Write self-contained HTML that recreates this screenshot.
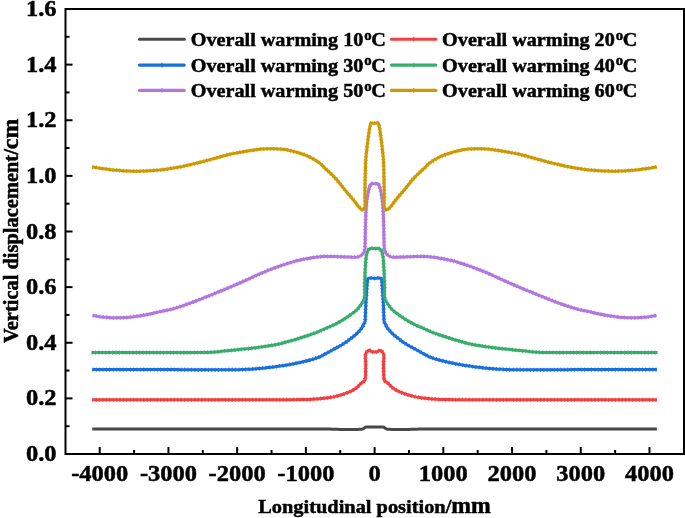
<!DOCTYPE html>
<html><head><meta charset="utf-8"><style>html,body{margin:0;padding:0;background:#fff;overflow:hidden}svg{display:block;will-change:transform}</style></head>
<body><svg width="685" height="518" viewBox="0 0 685 518">
<rect width="685" height="518" fill="#fff"/>
<path d="M92.30,429.10 L144.86,429.06 L202.43,428.98 L257.50,428.93 L302.53,428.94 L330.00,429.10 L332.80,429.16 L334.81,429.22 L336.42,429.29 L338.02,429.35 L340.00,429.40 L343.46,429.45 L347.40,429.48 L351.41,429.50 L355.08,429.48 L358.00,429.40 L359.13,429.35 L360.14,429.30 L361.03,429.24 L361.81,429.14 L362.50,429.00 L362.86,428.89 L363.18,428.76 L363.46,428.62 L363.73,428.47 L364.00,428.30 L364.25,428.11 L364.49,427.89 L364.72,427.66 L364.95,427.46 L365.20,427.30 L365.43,427.20 L365.65,427.13 L365.89,427.08 L366.16,427.04 L366.50,427.00 L367.67,426.93 L369.24,426.92 L371.03,426.95 L372.87,426.98 L374.60,427.00 L376.33,426.98 L378.17,426.95 L379.96,426.92 L381.53,426.93 L382.70,427.00 L383.04,427.04 L383.31,427.08 L383.55,427.13 L383.77,427.20 L384.00,427.30 L384.25,427.46 L384.48,427.66 L384.71,427.89 L384.95,428.11 L385.20,428.30 L385.47,428.47 L385.74,428.62 L386.02,428.76 L386.34,428.89 L386.70,429.00 L387.39,429.14 L388.17,429.24 L389.06,429.30 L390.07,429.35 L391.20,429.40 L394.12,429.48 L397.79,429.50 L401.80,429.48 L405.74,429.45 L409.20,429.40 L411.18,429.35 L412.78,429.29 L414.39,429.22 L416.40,429.16 L419.20,429.10 L446.67,428.94 L491.70,428.93 L546.77,428.98 L604.34,429.06 L656.90,429.10" fill="none" stroke="#484848" stroke-width="3" stroke-linejoin="round" stroke-linecap="butt"/>
<path d="M92.30,399.80 L125.25,399.81 L159.61,399.82 L193.27,399.83 L224.10,399.83 L250.00,399.80 L262.40,399.77 L273.85,399.75 L284.09,399.71 L292.89,399.66 L300.00,399.60 L302.48,399.57 L304.52,399.55 L306.31,399.53 L308.08,399.48 L310.00,399.40 L312.27,399.28 L314.58,399.12 L316.92,398.94 L319.27,398.74 L321.60,398.50 L323.92,398.25 L326.25,397.98 L328.57,397.68 L330.89,397.33 L333.20,396.90 L335.56,396.38 L337.93,395.80 L340.28,395.15 L342.59,394.45 L344.80,393.70 L346.79,392.96 L348.78,392.16 L350.68,391.32 L352.45,390.46 L354.00,389.60 L354.94,389.00 L355.77,388.40 L356.53,387.78 L357.26,387.15 L358.00,386.50 L358.75,385.80 L359.47,385.05 L360.18,384.30 L360.89,383.57 L361.60,382.90 L362.29,382.37 L363.02,381.90 L363.72,381.44 L364.34,380.95 L364.80,380.40 L365.03,379.90 L365.16,379.40 L365.21,378.85 L365.25,378.23 L365.30,377.50 L365.45,375.39 L365.55,372.68 L365.62,369.67 L365.66,366.64 L365.70,363.90 L365.63,361.73 L365.47,359.57 L365.33,357.49 L365.36,355.61 L365.70,354.00 L366.16,352.99 L366.77,352.04 L367.46,351.23 L368.19,350.62 L368.90,350.30 L369.46,350.33 L370.04,350.58 L370.62,350.95 L371.21,351.33 L371.80,351.60 L372.36,351.76 L372.92,351.90 L373.48,352.01 L374.04,352.08 L374.60,352.10 L375.16,352.08 L375.72,352.01 L376.28,351.90 L376.84,351.76 L377.40,351.60 L377.99,351.33 L378.58,350.95 L379.16,350.58 L379.74,350.33 L380.30,350.30 L381.01,350.62 L381.74,351.23 L382.43,352.04 L383.04,352.99 L383.50,354.00 L383.84,355.61 L383.87,357.49 L383.73,359.57 L383.57,361.73 L383.50,363.90 L383.54,366.64 L383.58,369.67 L383.65,372.68 L383.75,375.39 L383.90,377.50 L383.95,378.23 L383.99,378.85 L384.04,379.40 L384.17,379.90 L384.40,380.40 L384.86,380.95 L385.48,381.44 L386.18,381.90 L386.91,382.37 L387.60,382.90 L388.31,383.57 L389.02,384.30 L389.73,385.05 L390.45,385.80 L391.20,386.50 L391.94,387.15 L392.67,387.78 L393.43,388.40 L394.26,389.00 L395.20,389.60 L396.75,390.46 L398.52,391.32 L400.42,392.16 L402.41,392.96 L404.40,393.70 L406.61,394.45 L408.92,395.15 L411.27,395.80 L413.64,396.38 L416.00,396.90 L418.31,397.33 L420.63,397.68 L422.95,397.98 L425.28,398.25 L427.60,398.50 L429.93,398.74 L432.28,398.94 L434.62,399.12 L436.93,399.28 L439.20,399.40 L441.12,399.48 L442.89,399.53 L444.68,399.55 L446.72,399.57 L449.20,399.60 L456.31,399.66 L465.11,399.71 L475.35,399.75 L486.80,399.77 L499.20,399.80 L525.10,399.83 L555.93,399.83 L589.59,399.82 L623.95,399.81 L656.90,399.80" fill="none" stroke="#F14040" stroke-width="3" stroke-linejoin="round" stroke-linecap="butt"/>
<path d="M92.30,399.80 L125.25,399.81 L159.61,399.82 L193.27,399.83 L224.10,399.83 L250.00,399.80 L262.40,399.77 L273.85,399.75 L284.09,399.71 L292.89,399.66 L300.00,399.60 L302.48,399.57 L304.52,399.55 L306.31,399.53 L308.08,399.48 L310.00,399.40 L312.27,399.28 L314.58,399.12 L316.92,398.94 L319.27,398.74 L321.60,398.50 L323.92,398.25 L326.25,397.98 L328.57,397.68 L330.89,397.33 L333.20,396.90 L335.56,396.38 L337.93,395.80 L340.28,395.15 L342.59,394.45 L344.80,393.70 L346.79,392.96 L348.78,392.16 L350.68,391.32 L352.45,390.46 L354.00,389.60 L354.94,389.00 L355.77,388.40 L356.53,387.78 L357.26,387.15 L358.00,386.50 L358.75,385.80 L359.47,385.05 L360.18,384.30 L360.89,383.57 L361.60,382.90 L362.29,382.37 L363.02,381.90 L363.72,381.44 L364.34,380.95 L364.80,380.40 L365.03,379.90 L365.16,379.40 L365.21,378.85 L365.25,378.23 L365.30,377.50 L365.45,375.39 L365.55,372.68 L365.62,369.67 L365.66,366.64 L365.70,363.90 L365.63,361.73 L365.47,359.57 L365.33,357.49 L365.36,355.61 L365.70,354.00 L366.16,352.99 L366.77,352.04 L367.46,351.23 L368.19,350.62 L368.90,350.30 L369.46,350.33 L370.04,350.58 L370.62,350.95 L371.21,351.33 L371.80,351.60 L372.36,351.76 L372.92,351.90 L373.48,352.01 L374.04,352.08 L374.60,352.10 L375.16,352.08 L375.72,352.01 L376.28,351.90 L376.84,351.76 L377.40,351.60 L377.99,351.33 L378.58,350.95 L379.16,350.58 L379.74,350.33 L380.30,350.30 L381.01,350.62 L381.74,351.23 L382.43,352.04 L383.04,352.99 L383.50,354.00 L383.84,355.61 L383.87,357.49 L383.73,359.57 L383.57,361.73 L383.50,363.90 L383.54,366.64 L383.58,369.67 L383.65,372.68 L383.75,375.39 L383.90,377.50 L383.95,378.23 L383.99,378.85 L384.04,379.40 L384.17,379.90 L384.40,380.40 L384.86,380.95 L385.48,381.44 L386.18,381.90 L386.91,382.37 L387.60,382.90 L388.31,383.57 L389.02,384.30 L389.73,385.05 L390.45,385.80 L391.20,386.50 L391.94,387.15 L392.67,387.78 L393.43,388.40 L394.26,389.00 L395.20,389.60 L396.75,390.46 L398.52,391.32 L400.42,392.16 L402.41,392.96 L404.40,393.70 L406.61,394.45 L408.92,395.15 L411.27,395.80 L413.64,396.38 L416.00,396.90 L418.31,397.33 L420.63,397.68 L422.95,397.98 L425.28,398.25 L427.60,398.50 L429.93,398.74 L432.28,398.94 L434.62,399.12 L436.93,399.28 L439.20,399.40 L441.12,399.48 L442.89,399.53 L444.68,399.55 L446.72,399.57 L449.20,399.60 L456.31,399.66 L465.11,399.71 L475.35,399.75 L486.80,399.77 L499.20,399.80 L525.10,399.83 L555.93,399.83 L589.59,399.82 L623.95,399.81 L656.90,399.80" fill="none" stroke="#F14040" stroke-width="4.2" stroke-dasharray="1 2.4" stroke-linejoin="round" stroke-linecap="butt" opacity="0.85"/>
<path d="M92.30,369.60 L109.85,369.59 L128.21,369.58 L146.17,369.56 L162.50,369.57 L176.00,369.60 L181.82,369.63 L186.92,369.68 L191.50,369.73 L195.79,369.77 L200.00,369.80 L203.22,369.81 L206.25,369.81 L209.17,369.81 L212.06,369.81 L215.00,369.80 L218.00,369.79 L221.01,369.77 L224.01,369.75 L227.01,369.73 L230.00,369.70 L232.93,369.68 L235.86,369.67 L238.77,369.64 L241.68,369.59 L244.60,369.50 L247.52,369.36 L250.44,369.19 L253.36,368.98 L256.28,368.75 L259.20,368.50 L262.12,368.23 L265.04,367.93 L267.96,367.61 L270.88,367.27 L273.80,366.90 L276.72,366.51 L279.65,366.10 L282.57,365.66 L285.48,365.19 L288.40,364.70 L291.33,364.18 L294.25,363.65 L297.17,363.08 L300.09,362.47 L303.00,361.80 L306.01,361.07 L309.10,360.29 L312.14,359.46 L315.02,358.60 L317.60,357.70 L319.25,357.02 L320.74,356.33 L322.14,355.62 L323.53,354.87 L325.00,354.10 L326.70,353.20 L328.44,352.24 L330.19,351.26 L331.95,350.27 L333.70,349.30 L335.45,348.36 L337.20,347.43 L338.94,346.50 L340.68,345.53 L342.40,344.50 L344.16,343.36 L345.92,342.16 L347.66,340.92 L349.36,339.66 L351.00,338.40 L352.50,337.22 L353.97,336.02 L355.40,334.82 L356.75,333.61 L358.00,332.40 L359.01,331.34 L359.97,330.26 L360.86,329.19 L361.65,328.16 L362.30,327.20 L362.64,326.60 L362.91,326.04 L363.13,325.49 L363.35,324.95 L363.60,324.40 L363.91,323.83 L364.25,323.26 L364.58,322.69 L364.88,322.11 L365.10,321.50 L365.23,320.86 L365.28,320.23 L365.28,319.57 L365.28,318.83 L365.30,318.00 L365.37,316.17 L365.44,313.99 L365.52,311.60 L365.60,309.15 L365.70,306.80 L365.82,304.49 L365.95,302.17 L366.10,299.85 L366.25,297.52 L366.40,295.20 L366.54,292.81 L366.67,290.34 L366.80,287.90 L366.98,285.62 L367.20,283.60 L367.32,282.34 L367.39,281.13 L367.52,280.02 L367.79,279.09 L368.30,278.40 L369.22,278.02 L370.44,277.98 L371.82,278.12 L373.25,278.31 L374.60,278.40 L375.95,278.31 L377.38,278.12 L378.76,277.98 L379.98,278.02 L380.90,278.40 L381.41,279.09 L381.68,280.02 L381.81,281.13 L381.88,282.34 L382.00,283.60 L382.22,285.62 L382.40,287.90 L382.53,290.34 L382.66,292.81 L382.80,295.20 L382.95,297.52 L383.10,299.85 L383.25,302.17 L383.38,304.49 L383.50,306.80 L383.60,309.15 L383.68,311.60 L383.76,313.99 L383.83,316.17 L383.90,318.00 L383.92,318.83 L383.92,319.57 L383.92,320.23 L383.97,320.86 L384.10,321.50 L384.32,322.11 L384.62,322.69 L384.95,323.26 L385.29,323.83 L385.60,324.40 L385.85,324.95 L386.07,325.49 L386.29,326.04 L386.56,326.60 L386.90,327.20 L387.55,328.16 L388.34,329.19 L389.23,330.26 L390.19,331.34 L391.20,332.40 L392.45,333.61 L393.80,334.82 L395.23,336.02 L396.70,337.22 L398.20,338.40 L399.84,339.66 L401.54,340.92 L403.28,342.16 L405.04,343.36 L406.80,344.50 L408.52,345.53 L410.26,346.50 L412.00,347.43 L413.75,348.36 L415.50,349.30 L417.25,350.27 L419.01,351.26 L420.76,352.24 L422.50,353.20 L424.20,354.10 L425.67,354.87 L427.06,355.62 L428.46,356.33 L429.95,357.02 L431.60,357.70 L434.18,358.60 L437.06,359.46 L440.10,360.29 L443.19,361.07 L446.20,361.80 L449.11,362.47 L452.03,363.08 L454.95,363.65 L457.87,364.18 L460.80,364.70 L463.72,365.19 L466.63,365.66 L469.55,366.10 L472.48,366.51 L475.40,366.90 L478.32,367.27 L481.24,367.61 L484.16,367.93 L487.08,368.23 L490.00,368.50 L492.92,368.75 L495.84,368.98 L498.76,369.19 L501.68,369.36 L504.60,369.50 L507.52,369.59 L510.43,369.64 L513.34,369.67 L516.27,369.68 L519.20,369.70 L522.19,369.73 L525.19,369.75 L528.19,369.77 L531.20,369.79 L534.20,369.80 L537.14,369.81 L540.03,369.81 L542.95,369.81 L545.98,369.81 L549.20,369.80 L553.41,369.77 L557.70,369.73 L562.28,369.68 L567.38,369.63 L573.20,369.60 L586.70,369.57 L603.03,369.56 L620.99,369.58 L639.35,369.59 L656.90,369.60" fill="none" stroke="#1A6FDF" stroke-width="3" stroke-linejoin="round" stroke-linecap="butt"/>
<path d="M92.30,369.60 L109.85,369.59 L128.21,369.58 L146.17,369.56 L162.50,369.57 L176.00,369.60 L181.82,369.63 L186.92,369.68 L191.50,369.73 L195.79,369.77 L200.00,369.80 L203.22,369.81 L206.25,369.81 L209.17,369.81 L212.06,369.81 L215.00,369.80 L218.00,369.79 L221.01,369.77 L224.01,369.75 L227.01,369.73 L230.00,369.70 L232.93,369.68 L235.86,369.67 L238.77,369.64 L241.68,369.59 L244.60,369.50 L247.52,369.36 L250.44,369.19 L253.36,368.98 L256.28,368.75 L259.20,368.50 L262.12,368.23 L265.04,367.93 L267.96,367.61 L270.88,367.27 L273.80,366.90 L276.72,366.51 L279.65,366.10 L282.57,365.66 L285.48,365.19 L288.40,364.70 L291.33,364.18 L294.25,363.65 L297.17,363.08 L300.09,362.47 L303.00,361.80 L306.01,361.07 L309.10,360.29 L312.14,359.46 L315.02,358.60 L317.60,357.70 L319.25,357.02 L320.74,356.33 L322.14,355.62 L323.53,354.87 L325.00,354.10 L326.70,353.20 L328.44,352.24 L330.19,351.26 L331.95,350.27 L333.70,349.30 L335.45,348.36 L337.20,347.43 L338.94,346.50 L340.68,345.53 L342.40,344.50 L344.16,343.36 L345.92,342.16 L347.66,340.92 L349.36,339.66 L351.00,338.40 L352.50,337.22 L353.97,336.02 L355.40,334.82 L356.75,333.61 L358.00,332.40 L359.01,331.34 L359.97,330.26 L360.86,329.19 L361.65,328.16 L362.30,327.20 L362.64,326.60 L362.91,326.04 L363.13,325.49 L363.35,324.95 L363.60,324.40 L363.91,323.83 L364.25,323.26 L364.58,322.69 L364.88,322.11 L365.10,321.50 L365.23,320.86 L365.28,320.23 L365.28,319.57 L365.28,318.83 L365.30,318.00 L365.37,316.17 L365.44,313.99 L365.52,311.60 L365.60,309.15 L365.70,306.80 L365.82,304.49 L365.95,302.17 L366.10,299.85 L366.25,297.52 L366.40,295.20 L366.54,292.81 L366.67,290.34 L366.80,287.90 L366.98,285.62 L367.20,283.60 L367.32,282.34 L367.39,281.13 L367.52,280.02 L367.79,279.09 L368.30,278.40 L369.22,278.02 L370.44,277.98 L371.82,278.12 L373.25,278.31 L374.60,278.40 L375.95,278.31 L377.38,278.12 L378.76,277.98 L379.98,278.02 L380.90,278.40 L381.41,279.09 L381.68,280.02 L381.81,281.13 L381.88,282.34 L382.00,283.60 L382.22,285.62 L382.40,287.90 L382.53,290.34 L382.66,292.81 L382.80,295.20 L382.95,297.52 L383.10,299.85 L383.25,302.17 L383.38,304.49 L383.50,306.80 L383.60,309.15 L383.68,311.60 L383.76,313.99 L383.83,316.17 L383.90,318.00 L383.92,318.83 L383.92,319.57 L383.92,320.23 L383.97,320.86 L384.10,321.50 L384.32,322.11 L384.62,322.69 L384.95,323.26 L385.29,323.83 L385.60,324.40 L385.85,324.95 L386.07,325.49 L386.29,326.04 L386.56,326.60 L386.90,327.20 L387.55,328.16 L388.34,329.19 L389.23,330.26 L390.19,331.34 L391.20,332.40 L392.45,333.61 L393.80,334.82 L395.23,336.02 L396.70,337.22 L398.20,338.40 L399.84,339.66 L401.54,340.92 L403.28,342.16 L405.04,343.36 L406.80,344.50 L408.52,345.53 L410.26,346.50 L412.00,347.43 L413.75,348.36 L415.50,349.30 L417.25,350.27 L419.01,351.26 L420.76,352.24 L422.50,353.20 L424.20,354.10 L425.67,354.87 L427.06,355.62 L428.46,356.33 L429.95,357.02 L431.60,357.70 L434.18,358.60 L437.06,359.46 L440.10,360.29 L443.19,361.07 L446.20,361.80 L449.11,362.47 L452.03,363.08 L454.95,363.65 L457.87,364.18 L460.80,364.70 L463.72,365.19 L466.63,365.66 L469.55,366.10 L472.48,366.51 L475.40,366.90 L478.32,367.27 L481.24,367.61 L484.16,367.93 L487.08,368.23 L490.00,368.50 L492.92,368.75 L495.84,368.98 L498.76,369.19 L501.68,369.36 L504.60,369.50 L507.52,369.59 L510.43,369.64 L513.34,369.67 L516.27,369.68 L519.20,369.70 L522.19,369.73 L525.19,369.75 L528.19,369.77 L531.20,369.79 L534.20,369.80 L537.14,369.81 L540.03,369.81 L542.95,369.81 L545.98,369.81 L549.20,369.80 L553.41,369.77 L557.70,369.73 L562.28,369.68 L567.38,369.63 L573.20,369.60 L586.70,369.57 L603.03,369.56 L620.99,369.58 L639.35,369.59 L656.90,369.60" fill="none" stroke="#1A6FDF" stroke-width="4.2" stroke-dasharray="1 2.4" stroke-linejoin="round" stroke-linecap="butt" opacity="0.85"/>
<path d="M91.60,352.60 L103.35,352.60 L115.18,352.61 L126.97,352.61 L138.61,352.61 L150.00,352.60 L160.86,352.59 L172.11,352.59 L182.94,352.58 L192.51,352.55 L200.00,352.50 L202.46,352.48 L204.47,352.46 L206.25,352.44 L208.02,352.39 L210.00,352.30 L212.65,352.13 L215.42,351.91 L218.27,351.65 L221.15,351.37 L224.00,351.10 L226.87,350.82 L229.74,350.52 L232.62,350.21 L235.51,349.90 L238.40,349.60 L241.31,349.31 L244.23,349.03 L247.16,348.74 L250.08,348.44 L253.00,348.10 L255.94,347.72 L258.90,347.32 L261.85,346.89 L264.76,346.45 L267.60,346.00 L270.20,345.59 L272.78,345.17 L275.31,344.74 L277.73,344.28 L280.00,343.80 L281.66,343.38 L283.22,342.94 L284.71,342.49 L286.19,342.04 L287.70,341.60 L289.24,341.18 L290.78,340.77 L292.32,340.36 L293.86,339.94 L295.40,339.50 L296.94,339.02 L298.48,338.53 L300.02,338.02 L301.56,337.51 L303.10,337.00 L304.66,336.51 L306.22,336.02 L307.79,335.53 L309.35,335.02 L310.90,334.50 L312.45,333.95 L313.99,333.39 L315.53,332.82 L317.07,332.22 L318.60,331.60 L320.15,330.93 L321.69,330.23 L323.23,329.50 L324.77,328.79 L326.30,328.10 L327.78,327.48 L329.25,326.89 L330.72,326.31 L332.20,325.69 L333.70,325.00 L335.44,324.13 L337.23,323.17 L339.02,322.17 L340.77,321.17 L342.40,320.20 L343.71,319.40 L344.97,318.60 L346.18,317.81 L347.32,317.04 L348.40,316.30 L349.19,315.73 L349.93,315.18 L350.63,314.64 L351.32,314.12 L352.00,313.60 L352.62,313.15 L353.23,312.72 L353.84,312.29 L354.43,311.85 L355.00,311.40 L355.54,310.95 L356.06,310.50 L356.57,310.04 L357.08,309.54 L357.60,309.00 L358.25,308.24 L358.91,307.40 L359.57,306.51 L360.20,305.63 L360.80,304.80 L361.28,304.14 L361.75,303.49 L362.19,302.86 L362.61,302.23 L363.00,301.60 L363.33,301.06 L363.64,300.56 L363.93,300.04 L364.18,299.44 L364.40,298.70 L364.68,296.62 L364.77,293.95 L364.74,290.95 L364.69,287.88 L364.70,285.00 L364.77,282.31 L364.84,279.58 L364.92,276.90 L365.01,274.34 L365.10,272.00 L365.17,270.45 L365.25,269.01 L365.33,267.64 L365.42,266.32 L365.50,265.00 L365.57,263.83 L365.64,262.70 L365.71,261.58 L365.80,260.48 L365.90,259.40 L366.00,258.39 L366.11,257.40 L366.23,256.42 L366.39,255.45 L366.60,254.50 L366.86,253.53 L367.15,252.54 L367.48,251.58 L367.86,250.71 L368.30,250.00 L368.64,249.59 L369.00,249.23 L369.39,248.94 L369.82,248.69 L370.30,248.50 L371.04,248.36 L371.88,248.34 L372.79,248.39 L373.71,248.46 L374.60,248.50 L375.49,248.46 L376.41,248.39 L377.32,248.34 L378.16,248.36 L378.90,248.50 L379.38,248.69 L379.81,248.94 L380.20,249.23 L380.56,249.59 L380.90,250.00 L381.34,250.71 L381.72,251.58 L382.05,252.54 L382.34,253.53 L382.60,254.50 L382.81,255.45 L382.97,256.42 L383.09,257.40 L383.20,258.39 L383.30,259.40 L383.40,260.48 L383.49,261.58 L383.56,262.70 L383.63,263.83 L383.70,265.00 L383.78,266.32 L383.87,267.64 L383.95,269.01 L384.03,270.45 L384.10,272.00 L384.19,274.34 L384.28,276.90 L384.36,279.58 L384.43,282.31 L384.50,285.00 L384.51,287.88 L384.46,290.95 L384.43,293.95 L384.52,296.62 L384.80,298.70 L385.02,299.44 L385.27,300.04 L385.56,300.56 L385.87,301.06 L386.20,301.60 L386.59,302.23 L387.01,302.86 L387.45,303.49 L387.92,304.14 L388.40,304.80 L389.00,305.63 L389.63,306.51 L390.29,307.40 L390.95,308.24 L391.60,309.00 L392.12,309.54 L392.63,310.04 L393.14,310.50 L393.66,310.95 L394.20,311.40 L394.77,311.85 L395.36,312.29 L395.97,312.72 L396.58,313.15 L397.20,313.60 L397.88,314.12 L398.57,314.64 L399.27,315.18 L400.01,315.73 L400.80,316.30 L401.88,317.04 L403.02,317.81 L404.23,318.60 L405.49,319.40 L406.80,320.20 L408.43,321.17 L410.18,322.17 L411.97,323.17 L413.76,324.13 L415.50,325.00 L417.00,325.69 L418.48,326.31 L419.95,326.89 L421.42,327.48 L422.90,328.10 L424.43,328.79 L425.97,329.50 L427.51,330.23 L429.05,330.93 L430.60,331.60 L432.13,332.22 L433.67,332.82 L435.21,333.39 L436.75,333.95 L438.30,334.50 L439.85,335.02 L441.41,335.53 L442.98,336.02 L444.54,336.51 L446.10,337.00 L447.64,337.51 L449.18,338.02 L450.72,338.53 L452.26,339.02 L453.80,339.50 L455.34,339.94 L456.88,340.36 L458.42,340.77 L459.96,341.18 L461.50,341.60 L463.01,342.04 L464.49,342.49 L465.98,342.94 L467.54,343.38 L469.20,343.80 L471.47,344.28 L473.89,344.74 L476.42,345.17 L479.00,345.59 L481.60,346.00 L484.44,346.45 L487.35,346.89 L490.30,347.32 L493.26,347.72 L496.20,348.10 L499.12,348.44 L502.04,348.74 L504.97,349.03 L507.89,349.31 L510.80,349.60 L513.69,349.90 L516.58,350.21 L519.46,350.52 L522.33,350.82 L525.20,351.10 L528.05,351.37 L530.93,351.65 L533.78,351.91 L536.55,352.13 L539.20,352.30 L541.18,352.39 L542.95,352.44 L544.73,352.46 L546.74,352.48 L549.20,352.50 L556.69,352.55 L566.26,352.58 L577.09,352.59 L588.34,352.59 L599.20,352.60 L610.59,352.61 L622.23,352.61 L634.02,352.61 L645.85,352.60 L657.60,352.60" fill="none" stroke="#37AD6B" stroke-width="3" stroke-linejoin="round" stroke-linecap="butt"/>
<path d="M91.60,352.60 L103.35,352.60 L115.18,352.61 L126.97,352.61 L138.61,352.61 L150.00,352.60 L160.86,352.59 L172.11,352.59 L182.94,352.58 L192.51,352.55 L200.00,352.50 L202.46,352.48 L204.47,352.46 L206.25,352.44 L208.02,352.39 L210.00,352.30 L212.65,352.13 L215.42,351.91 L218.27,351.65 L221.15,351.37 L224.00,351.10 L226.87,350.82 L229.74,350.52 L232.62,350.21 L235.51,349.90 L238.40,349.60 L241.31,349.31 L244.23,349.03 L247.16,348.74 L250.08,348.44 L253.00,348.10 L255.94,347.72 L258.90,347.32 L261.85,346.89 L264.76,346.45 L267.60,346.00 L270.20,345.59 L272.78,345.17 L275.31,344.74 L277.73,344.28 L280.00,343.80 L281.66,343.38 L283.22,342.94 L284.71,342.49 L286.19,342.04 L287.70,341.60 L289.24,341.18 L290.78,340.77 L292.32,340.36 L293.86,339.94 L295.40,339.50 L296.94,339.02 L298.48,338.53 L300.02,338.02 L301.56,337.51 L303.10,337.00 L304.66,336.51 L306.22,336.02 L307.79,335.53 L309.35,335.02 L310.90,334.50 L312.45,333.95 L313.99,333.39 L315.53,332.82 L317.07,332.22 L318.60,331.60 L320.15,330.93 L321.69,330.23 L323.23,329.50 L324.77,328.79 L326.30,328.10 L327.78,327.48 L329.25,326.89 L330.72,326.31 L332.20,325.69 L333.70,325.00 L335.44,324.13 L337.23,323.17 L339.02,322.17 L340.77,321.17 L342.40,320.20 L343.71,319.40 L344.97,318.60 L346.18,317.81 L347.32,317.04 L348.40,316.30 L349.19,315.73 L349.93,315.18 L350.63,314.64 L351.32,314.12 L352.00,313.60 L352.62,313.15 L353.23,312.72 L353.84,312.29 L354.43,311.85 L355.00,311.40 L355.54,310.95 L356.06,310.50 L356.57,310.04 L357.08,309.54 L357.60,309.00 L358.25,308.24 L358.91,307.40 L359.57,306.51 L360.20,305.63 L360.80,304.80 L361.28,304.14 L361.75,303.49 L362.19,302.86 L362.61,302.23 L363.00,301.60 L363.33,301.06 L363.64,300.56 L363.93,300.04 L364.18,299.44 L364.40,298.70 L364.68,296.62 L364.77,293.95 L364.74,290.95 L364.69,287.88 L364.70,285.00 L364.77,282.31 L364.84,279.58 L364.92,276.90 L365.01,274.34 L365.10,272.00 L365.17,270.45 L365.25,269.01 L365.33,267.64 L365.42,266.32 L365.50,265.00 L365.57,263.83 L365.64,262.70 L365.71,261.58 L365.80,260.48 L365.90,259.40 L366.00,258.39 L366.11,257.40 L366.23,256.42 L366.39,255.45 L366.60,254.50 L366.86,253.53 L367.15,252.54 L367.48,251.58 L367.86,250.71 L368.30,250.00 L368.64,249.59 L369.00,249.23 L369.39,248.94 L369.82,248.69 L370.30,248.50 L371.04,248.36 L371.88,248.34 L372.79,248.39 L373.71,248.46 L374.60,248.50 L375.49,248.46 L376.41,248.39 L377.32,248.34 L378.16,248.36 L378.90,248.50 L379.38,248.69 L379.81,248.94 L380.20,249.23 L380.56,249.59 L380.90,250.00 L381.34,250.71 L381.72,251.58 L382.05,252.54 L382.34,253.53 L382.60,254.50 L382.81,255.45 L382.97,256.42 L383.09,257.40 L383.20,258.39 L383.30,259.40 L383.40,260.48 L383.49,261.58 L383.56,262.70 L383.63,263.83 L383.70,265.00 L383.78,266.32 L383.87,267.64 L383.95,269.01 L384.03,270.45 L384.10,272.00 L384.19,274.34 L384.28,276.90 L384.36,279.58 L384.43,282.31 L384.50,285.00 L384.51,287.88 L384.46,290.95 L384.43,293.95 L384.52,296.62 L384.80,298.70 L385.02,299.44 L385.27,300.04 L385.56,300.56 L385.87,301.06 L386.20,301.60 L386.59,302.23 L387.01,302.86 L387.45,303.49 L387.92,304.14 L388.40,304.80 L389.00,305.63 L389.63,306.51 L390.29,307.40 L390.95,308.24 L391.60,309.00 L392.12,309.54 L392.63,310.04 L393.14,310.50 L393.66,310.95 L394.20,311.40 L394.77,311.85 L395.36,312.29 L395.97,312.72 L396.58,313.15 L397.20,313.60 L397.88,314.12 L398.57,314.64 L399.27,315.18 L400.01,315.73 L400.80,316.30 L401.88,317.04 L403.02,317.81 L404.23,318.60 L405.49,319.40 L406.80,320.20 L408.43,321.17 L410.18,322.17 L411.97,323.17 L413.76,324.13 L415.50,325.00 L417.00,325.69 L418.48,326.31 L419.95,326.89 L421.42,327.48 L422.90,328.10 L424.43,328.79 L425.97,329.50 L427.51,330.23 L429.05,330.93 L430.60,331.60 L432.13,332.22 L433.67,332.82 L435.21,333.39 L436.75,333.95 L438.30,334.50 L439.85,335.02 L441.41,335.53 L442.98,336.02 L444.54,336.51 L446.10,337.00 L447.64,337.51 L449.18,338.02 L450.72,338.53 L452.26,339.02 L453.80,339.50 L455.34,339.94 L456.88,340.36 L458.42,340.77 L459.96,341.18 L461.50,341.60 L463.01,342.04 L464.49,342.49 L465.98,342.94 L467.54,343.38 L469.20,343.80 L471.47,344.28 L473.89,344.74 L476.42,345.17 L479.00,345.59 L481.60,346.00 L484.44,346.45 L487.35,346.89 L490.30,347.32 L493.26,347.72 L496.20,348.10 L499.12,348.44 L502.04,348.74 L504.97,349.03 L507.89,349.31 L510.80,349.60 L513.69,349.90 L516.58,350.21 L519.46,350.52 L522.33,350.82 L525.20,351.10 L528.05,351.37 L530.93,351.65 L533.78,351.91 L536.55,352.13 L539.20,352.30 L541.18,352.39 L542.95,352.44 L544.73,352.46 L546.74,352.48 L549.20,352.50 L556.69,352.55 L566.26,352.58 L577.09,352.59 L588.34,352.59 L599.20,352.60 L610.59,352.61 L622.23,352.61 L634.02,352.61 L645.85,352.60 L657.60,352.60" fill="none" stroke="#37AD6B" stroke-width="4.2" stroke-dasharray="1 2.4" stroke-linejoin="round" stroke-linecap="butt" opacity="0.85"/>
<path d="M92.60,315.50 L94.40,315.79 L96.18,316.09 L97.97,316.38 L99.80,316.66 L101.70,316.90 L103.94,317.14 L106.27,317.36 L108.65,317.55 L111.04,317.70 L113.40,317.80 L115.72,317.85 L118.04,317.85 L120.36,317.81 L122.68,317.73 L125.00,317.60 L127.34,317.42 L129.68,317.19 L132.02,316.92 L134.36,316.62 L136.70,316.30 L139.04,315.96 L141.39,315.58 L143.73,315.18 L146.07,314.75 L148.40,314.30 L150.76,313.80 L153.13,313.24 L155.49,312.67 L157.82,312.12 L160.10,311.60 L162.12,311.19 L164.08,310.82 L166.03,310.46 L167.99,310.06 L170.00,309.60 L172.29,309.00 L174.62,308.33 L176.99,307.61 L179.35,306.86 L181.70,306.10 L184.05,305.32 L186.39,304.52 L188.73,303.70 L191.07,302.86 L193.40,302.00 L195.73,301.11 L198.05,300.20 L200.36,299.27 L202.68,298.33 L205.00,297.40 L207.34,296.47 L209.68,295.53 L212.02,294.60 L214.36,293.65 L216.70,292.70 L219.04,291.73 L221.38,290.76 L223.72,289.78 L226.06,288.79 L228.40,287.80 L230.76,286.80 L233.13,285.80 L235.49,284.79 L237.82,283.79 L240.10,282.80 L242.12,281.92 L244.08,281.05 L246.02,280.19 L247.98,279.31 L250.00,278.40 L252.28,277.35 L254.61,276.25 L256.96,275.14 L259.34,274.04 L261.70,273.00 L264.03,272.03 L266.37,271.09 L268.71,270.17 L271.06,269.28 L273.40,268.40 L275.72,267.54 L278.03,266.70 L280.35,265.88 L282.67,265.08 L285.00,264.30 L287.33,263.55 L289.66,262.81 L292.00,262.09 L294.35,261.42 L296.70,260.80 L299.03,260.24 L301.37,259.73 L303.71,259.26 L306.05,258.82 L308.40,258.40 L310.75,257.99 L313.12,257.60 L315.48,257.24 L317.82,256.94 L320.10,256.70 L322.13,256.55 L324.12,256.46 L326.09,256.42 L328.04,256.40 L330.00,256.40 L331.95,256.42 L333.91,256.48 L335.86,256.55 L337.77,256.63 L339.60,256.70 L341.12,256.76 L342.59,256.82 L344.03,256.89 L345.46,256.95 L346.90,257.00 L348.40,257.06 L349.94,257.12 L351.46,257.18 L352.90,257.21 L354.20,257.20 L355.00,257.18 L355.74,257.17 L356.43,257.13 L357.11,257.05 L357.80,256.90 L358.57,256.66 L359.35,256.34 L360.12,255.97 L360.85,255.56 L361.50,255.10 L362.03,254.65 L362.51,254.15 L362.95,253.62 L363.35,253.06 L363.70,252.50 L363.99,251.96 L364.25,251.41 L364.46,250.85 L364.64,250.25 L364.80,249.60 L364.94,248.70 L365.02,247.75 L365.05,246.73 L365.07,245.65 L365.10,244.50 L365.15,242.81 L365.19,240.98 L365.23,239.05 L365.26,237.04 L365.30,235.00 L365.35,232.55 L365.40,230.01 L365.45,227.39 L365.52,224.71 L365.60,222.00 L365.70,218.90 L365.81,215.66 L365.94,212.39 L366.10,209.24 L366.30,206.30 L366.49,204.14 L366.70,202.10 L366.93,200.14 L367.20,198.22 L367.50,196.30 L367.82,194.44 L368.16,192.54 L368.53,190.70 L368.94,188.99 L369.40,187.50 L369.72,186.58 L370.03,185.70 L370.38,184.91 L370.79,184.26 L371.30,183.80 L371.86,183.60 L372.51,183.58 L373.21,183.65 L373.92,183.75 L374.60,183.80 L375.28,183.75 L375.99,183.65 L376.69,183.58 L377.34,183.60 L377.90,183.80 L378.41,184.26 L378.82,184.91 L379.17,185.70 L379.48,186.58 L379.80,187.50 L380.26,188.99 L380.67,190.70 L381.04,192.54 L381.38,194.44 L381.70,196.30 L382.00,198.22 L382.27,200.14 L382.50,202.10 L382.71,204.14 L382.90,206.30 L383.10,209.24 L383.26,212.39 L383.39,215.66 L383.50,218.90 L383.60,222.00 L383.68,224.71 L383.75,227.39 L383.80,230.01 L383.85,232.55 L383.90,235.00 L383.94,237.04 L383.97,239.05 L384.01,240.98 L384.05,242.81 L384.10,244.50 L384.13,245.65 L384.15,246.73 L384.18,247.75 L384.26,248.70 L384.40,249.60 L384.56,250.25 L384.74,250.85 L384.95,251.41 L385.21,251.96 L385.50,252.50 L385.85,253.06 L386.25,253.62 L386.69,254.15 L387.17,254.65 L387.70,255.10 L388.35,255.56 L389.08,255.97 L389.85,256.34 L390.63,256.66 L391.40,256.90 L392.09,257.05 L392.77,257.13 L393.46,257.17 L394.20,257.18 L395.00,257.20 L396.30,257.21 L397.74,257.18 L399.26,257.12 L400.80,257.06 L402.30,257.00 L403.74,256.95 L405.17,256.89 L406.61,256.82 L408.08,256.76 L409.60,256.70 L411.43,256.63 L413.34,256.55 L415.29,256.48 L417.25,256.42 L419.20,256.40 L421.16,256.40 L423.11,256.42 L425.08,256.46 L427.07,256.55 L429.10,256.70 L431.38,256.94 L433.72,257.24 L436.08,257.60 L438.45,257.99 L440.80,258.40 L443.15,258.82 L445.49,259.26 L447.83,259.73 L450.17,260.24 L452.50,260.80 L454.85,261.42 L457.20,262.09 L459.54,262.81 L461.87,263.55 L464.20,264.30 L466.53,265.08 L468.85,265.88 L471.17,266.70 L473.48,267.54 L475.80,268.40 L478.14,269.28 L480.49,270.17 L482.83,271.09 L485.17,272.03 L487.50,273.00 L489.86,274.04 L492.24,275.14 L494.59,276.25 L496.92,277.35 L499.20,278.40 L501.22,279.31 L503.18,280.19 L505.12,281.05 L507.08,281.92 L509.10,282.80 L511.38,283.79 L513.71,284.79 L516.07,285.80 L518.44,286.80 L520.80,287.80 L523.14,288.79 L525.48,289.78 L527.82,290.76 L530.16,291.73 L532.50,292.70 L534.84,293.65 L537.18,294.60 L539.52,295.53 L541.86,296.47 L544.20,297.40 L546.52,298.33 L548.84,299.27 L551.15,300.20 L553.47,301.11 L555.80,302.00 L558.13,302.86 L560.47,303.70 L562.81,304.52 L565.15,305.32 L567.50,306.10 L569.85,306.86 L572.21,307.61 L574.58,308.33 L576.91,309.00 L579.20,309.60 L581.21,310.06 L583.17,310.46 L585.12,310.82 L587.08,311.19 L589.10,311.60 L591.38,312.12 L593.71,312.67 L596.07,313.24 L598.44,313.80 L600.80,314.30 L603.13,314.75 L605.47,315.18 L607.81,315.58 L610.16,315.96 L612.50,316.30 L614.84,316.62 L617.18,316.92 L619.52,317.19 L621.86,317.42 L624.20,317.60 L626.52,317.73 L628.84,317.81 L631.16,317.85 L633.48,317.85 L635.80,317.80 L638.16,317.70 L640.55,317.55 L642.93,317.36 L645.26,317.14 L647.50,316.90 L649.40,316.66 L651.23,316.38 L653.02,316.09 L654.80,315.79 L656.60,315.50" fill="none" stroke="#B177DE" stroke-width="3" stroke-linejoin="round" stroke-linecap="butt"/>
<path d="M92.60,315.50 L94.40,315.79 L96.18,316.09 L97.97,316.38 L99.80,316.66 L101.70,316.90 L103.94,317.14 L106.27,317.36 L108.65,317.55 L111.04,317.70 L113.40,317.80 L115.72,317.85 L118.04,317.85 L120.36,317.81 L122.68,317.73 L125.00,317.60 L127.34,317.42 L129.68,317.19 L132.02,316.92 L134.36,316.62 L136.70,316.30 L139.04,315.96 L141.39,315.58 L143.73,315.18 L146.07,314.75 L148.40,314.30 L150.76,313.80 L153.13,313.24 L155.49,312.67 L157.82,312.12 L160.10,311.60 L162.12,311.19 L164.08,310.82 L166.03,310.46 L167.99,310.06 L170.00,309.60 L172.29,309.00 L174.62,308.33 L176.99,307.61 L179.35,306.86 L181.70,306.10 L184.05,305.32 L186.39,304.52 L188.73,303.70 L191.07,302.86 L193.40,302.00 L195.73,301.11 L198.05,300.20 L200.36,299.27 L202.68,298.33 L205.00,297.40 L207.34,296.47 L209.68,295.53 L212.02,294.60 L214.36,293.65 L216.70,292.70 L219.04,291.73 L221.38,290.76 L223.72,289.78 L226.06,288.79 L228.40,287.80 L230.76,286.80 L233.13,285.80 L235.49,284.79 L237.82,283.79 L240.10,282.80 L242.12,281.92 L244.08,281.05 L246.02,280.19 L247.98,279.31 L250.00,278.40 L252.28,277.35 L254.61,276.25 L256.96,275.14 L259.34,274.04 L261.70,273.00 L264.03,272.03 L266.37,271.09 L268.71,270.17 L271.06,269.28 L273.40,268.40 L275.72,267.54 L278.03,266.70 L280.35,265.88 L282.67,265.08 L285.00,264.30 L287.33,263.55 L289.66,262.81 L292.00,262.09 L294.35,261.42 L296.70,260.80 L299.03,260.24 L301.37,259.73 L303.71,259.26 L306.05,258.82 L308.40,258.40 L310.75,257.99 L313.12,257.60 L315.48,257.24 L317.82,256.94 L320.10,256.70 L322.13,256.55 L324.12,256.46 L326.09,256.42 L328.04,256.40 L330.00,256.40 L331.95,256.42 L333.91,256.48 L335.86,256.55 L337.77,256.63 L339.60,256.70 L341.12,256.76 L342.59,256.82 L344.03,256.89 L345.46,256.95 L346.90,257.00 L348.40,257.06 L349.94,257.12 L351.46,257.18 L352.90,257.21 L354.20,257.20 L355.00,257.18 L355.74,257.17 L356.43,257.13 L357.11,257.05 L357.80,256.90 L358.57,256.66 L359.35,256.34 L360.12,255.97 L360.85,255.56 L361.50,255.10 L362.03,254.65 L362.51,254.15 L362.95,253.62 L363.35,253.06 L363.70,252.50 L363.99,251.96 L364.25,251.41 L364.46,250.85 L364.64,250.25 L364.80,249.60 L364.94,248.70 L365.02,247.75 L365.05,246.73 L365.07,245.65 L365.10,244.50 L365.15,242.81 L365.19,240.98 L365.23,239.05 L365.26,237.04 L365.30,235.00 L365.35,232.55 L365.40,230.01 L365.45,227.39 L365.52,224.71 L365.60,222.00 L365.70,218.90 L365.81,215.66 L365.94,212.39 L366.10,209.24 L366.30,206.30 L366.49,204.14 L366.70,202.10 L366.93,200.14 L367.20,198.22 L367.50,196.30 L367.82,194.44 L368.16,192.54 L368.53,190.70 L368.94,188.99 L369.40,187.50 L369.72,186.58 L370.03,185.70 L370.38,184.91 L370.79,184.26 L371.30,183.80 L371.86,183.60 L372.51,183.58 L373.21,183.65 L373.92,183.75 L374.60,183.80 L375.28,183.75 L375.99,183.65 L376.69,183.58 L377.34,183.60 L377.90,183.80 L378.41,184.26 L378.82,184.91 L379.17,185.70 L379.48,186.58 L379.80,187.50 L380.26,188.99 L380.67,190.70 L381.04,192.54 L381.38,194.44 L381.70,196.30 L382.00,198.22 L382.27,200.14 L382.50,202.10 L382.71,204.14 L382.90,206.30 L383.10,209.24 L383.26,212.39 L383.39,215.66 L383.50,218.90 L383.60,222.00 L383.68,224.71 L383.75,227.39 L383.80,230.01 L383.85,232.55 L383.90,235.00 L383.94,237.04 L383.97,239.05 L384.01,240.98 L384.05,242.81 L384.10,244.50 L384.13,245.65 L384.15,246.73 L384.18,247.75 L384.26,248.70 L384.40,249.60 L384.56,250.25 L384.74,250.85 L384.95,251.41 L385.21,251.96 L385.50,252.50 L385.85,253.06 L386.25,253.62 L386.69,254.15 L387.17,254.65 L387.70,255.10 L388.35,255.56 L389.08,255.97 L389.85,256.34 L390.63,256.66 L391.40,256.90 L392.09,257.05 L392.77,257.13 L393.46,257.17 L394.20,257.18 L395.00,257.20 L396.30,257.21 L397.74,257.18 L399.26,257.12 L400.80,257.06 L402.30,257.00 L403.74,256.95 L405.17,256.89 L406.61,256.82 L408.08,256.76 L409.60,256.70 L411.43,256.63 L413.34,256.55 L415.29,256.48 L417.25,256.42 L419.20,256.40 L421.16,256.40 L423.11,256.42 L425.08,256.46 L427.07,256.55 L429.10,256.70 L431.38,256.94 L433.72,257.24 L436.08,257.60 L438.45,257.99 L440.80,258.40 L443.15,258.82 L445.49,259.26 L447.83,259.73 L450.17,260.24 L452.50,260.80 L454.85,261.42 L457.20,262.09 L459.54,262.81 L461.87,263.55 L464.20,264.30 L466.53,265.08 L468.85,265.88 L471.17,266.70 L473.48,267.54 L475.80,268.40 L478.14,269.28 L480.49,270.17 L482.83,271.09 L485.17,272.03 L487.50,273.00 L489.86,274.04 L492.24,275.14 L494.59,276.25 L496.92,277.35 L499.20,278.40 L501.22,279.31 L503.18,280.19 L505.12,281.05 L507.08,281.92 L509.10,282.80 L511.38,283.79 L513.71,284.79 L516.07,285.80 L518.44,286.80 L520.80,287.80 L523.14,288.79 L525.48,289.78 L527.82,290.76 L530.16,291.73 L532.50,292.70 L534.84,293.65 L537.18,294.60 L539.52,295.53 L541.86,296.47 L544.20,297.40 L546.52,298.33 L548.84,299.27 L551.15,300.20 L553.47,301.11 L555.80,302.00 L558.13,302.86 L560.47,303.70 L562.81,304.52 L565.15,305.32 L567.50,306.10 L569.85,306.86 L572.21,307.61 L574.58,308.33 L576.91,309.00 L579.20,309.60 L581.21,310.06 L583.17,310.46 L585.12,310.82 L587.08,311.19 L589.10,311.60 L591.38,312.12 L593.71,312.67 L596.07,313.24 L598.44,313.80 L600.80,314.30 L603.13,314.75 L605.47,315.18 L607.81,315.58 L610.16,315.96 L612.50,316.30 L614.84,316.62 L617.18,316.92 L619.52,317.19 L621.86,317.42 L624.20,317.60 L626.52,317.73 L628.84,317.81 L631.16,317.85 L633.48,317.85 L635.80,317.80 L638.16,317.70 L640.55,317.55 L642.93,317.36 L645.26,317.14 L647.50,316.90 L649.40,316.66 L651.23,316.38 L653.02,316.09 L654.80,315.79 L656.60,315.50" fill="none" stroke="#B177DE" stroke-width="4.2" stroke-dasharray="1 2.4" stroke-linejoin="round" stroke-linecap="butt" opacity="0.85"/>
<path d="M92.30,166.90 L94.16,167.23 L96.01,167.56 L97.86,167.88 L99.75,168.20 L101.70,168.50 L103.96,168.81 L106.29,169.11 L108.66,169.39 L111.04,169.65 L113.40,169.90 L115.72,170.14 L118.04,170.36 L120.36,170.57 L122.68,170.75 L125.00,170.90 L127.34,171.02 L129.68,171.10 L132.02,171.16 L134.36,171.20 L136.70,171.20 L139.04,171.17 L141.38,171.11 L143.72,171.03 L146.06,170.92 L148.40,170.80 L150.76,170.66 L153.13,170.50 L155.49,170.32 L157.82,170.12 L160.10,169.90 L162.12,169.68 L164.08,169.44 L166.02,169.18 L167.98,168.90 L170.00,168.60 L172.28,168.25 L174.62,167.88 L176.98,167.48 L179.35,167.05 L181.70,166.60 L184.05,166.11 L186.39,165.58 L188.73,165.03 L191.07,164.46 L193.40,163.90 L195.72,163.34 L198.04,162.77 L200.36,162.19 L202.68,161.60 L205.00,161.00 L207.34,160.38 L209.68,159.74 L212.02,159.09 L214.36,158.44 L216.70,157.80 L219.04,157.15 L221.38,156.48 L223.71,155.82 L226.05,155.18 L228.40,154.60 L230.75,154.08 L233.12,153.60 L235.48,153.14 L237.82,152.72 L240.10,152.30 L242.12,151.93 L244.08,151.58 L246.02,151.24 L247.98,150.91 L250.00,150.60 L252.27,150.26 L254.61,149.92 L256.97,149.60 L259.34,149.32 L261.70,149.10 L264.04,148.95 L266.38,148.84 L268.72,148.78 L271.06,148.77 L273.40,148.80 L275.73,148.86 L278.05,148.95 L280.37,149.09 L282.69,149.30 L285.00,149.60 L287.35,150.00 L289.70,150.48 L292.04,151.03 L294.37,151.64 L296.70,152.30 L299.06,152.99 L301.42,153.72 L303.77,154.51 L306.10,155.40 L308.40,156.40 L310.87,157.63 L313.39,159.01 L315.85,160.48 L318.13,161.97 L320.10,163.40 L321.24,164.36 L322.18,165.30 L323.05,166.24 L323.95,167.23 L325.00,168.30 L326.73,169.93 L328.67,171.70 L330.70,173.57 L332.75,175.51 L334.70,177.50 L336.66,179.70 L338.59,182.01 L340.49,184.37 L342.39,186.75 L344.30,189.10 L346.29,191.48 L348.34,193.91 L350.37,196.31 L352.28,198.60 L354.00,200.70 L355.08,202.10 L356.07,203.45 L356.99,204.71 L357.89,205.87 L358.80,206.90 L359.50,207.64 L360.20,208.37 L360.89,209.01 L361.56,209.48 L362.20,209.70 L362.68,209.70 L363.16,209.59 L363.62,209.37 L364.04,209.04 L364.40,208.60 L364.92,206.89 L365.08,204.35 L365.03,201.29 L364.92,198.06 L364.90,195.00 L364.97,191.73 L365.03,188.37 L365.07,184.94 L365.13,181.47 L365.20,178.00 L365.29,174.28 L365.38,170.43 L365.49,166.61 L365.63,162.98 L365.80,159.70 L365.95,157.65 L366.12,155.80 L366.30,154.04 L366.49,152.27 L366.70,150.40 L366.95,148.18 L367.22,145.89 L367.50,143.56 L367.79,141.22 L368.10,138.90 L368.42,136.49 L368.74,133.97 L369.08,131.51 L369.43,129.24 L369.80,127.30 L369.99,126.27 L370.13,125.30 L370.31,124.43 L370.58,123.71 L371.00,123.20 L371.57,122.97 L372.27,122.94 L373.05,123.03 L373.84,123.14 L374.60,123.20 L375.36,123.14 L376.15,123.03 L376.93,122.94 L377.63,122.97 L378.20,123.20 L378.62,123.71 L378.89,124.43 L379.07,125.30 L379.21,126.27 L379.40,127.30 L379.77,129.24 L380.12,131.51 L380.46,133.97 L380.78,136.49 L381.10,138.90 L381.41,141.22 L381.70,143.56 L381.98,145.89 L382.25,148.18 L382.50,150.40 L382.71,152.27 L382.90,154.04 L383.08,155.80 L383.25,157.65 L383.40,159.70 L383.57,162.98 L383.71,166.61 L383.82,170.43 L383.91,174.28 L384.00,178.00 L384.07,181.47 L384.13,184.94 L384.17,188.37 L384.23,191.73 L384.30,195.00 L384.28,198.06 L384.17,201.29 L384.12,204.35 L384.28,206.89 L384.80,208.60 L385.16,209.04 L385.58,209.37 L386.04,209.59 L386.52,209.70 L387.00,209.70 L387.64,209.48 L388.31,209.01 L389.00,208.37 L389.70,207.64 L390.40,206.90 L391.31,205.87 L392.21,204.71 L393.13,203.45 L394.12,202.10 L395.20,200.70 L396.92,198.60 L398.83,196.31 L400.86,193.91 L402.91,191.48 L404.90,189.10 L406.81,186.75 L408.71,184.37 L410.61,182.01 L412.54,179.70 L414.50,177.50 L416.45,175.51 L418.50,173.57 L420.53,171.70 L422.47,169.93 L424.20,168.30 L425.25,167.23 L426.15,166.24 L427.02,165.30 L427.96,164.36 L429.10,163.40 L431.07,161.97 L433.35,160.48 L435.81,159.01 L438.33,157.63 L440.80,156.40 L443.10,155.40 L445.43,154.51 L447.78,153.72 L450.14,152.99 L452.50,152.30 L454.83,151.64 L457.16,151.03 L459.50,150.48 L461.85,150.00 L464.20,149.60 L466.51,149.30 L468.83,149.09 L471.15,148.95 L473.47,148.86 L475.80,148.80 L478.14,148.77 L480.48,148.78 L482.82,148.84 L485.16,148.95 L487.50,149.10 L489.86,149.32 L492.23,149.60 L494.59,149.92 L496.93,150.26 L499.20,150.60 L501.22,150.91 L503.18,151.24 L505.12,151.58 L507.08,151.93 L509.10,152.30 L511.38,152.72 L513.72,153.14 L516.08,153.60 L518.45,154.08 L520.80,154.60 L523.15,155.18 L525.49,155.82 L527.82,156.48 L530.16,157.15 L532.50,157.80 L534.84,158.44 L537.18,159.09 L539.52,159.74 L541.86,160.38 L544.20,161.00 L546.52,161.60 L548.84,162.19 L551.16,162.77 L553.48,163.34 L555.80,163.90 L558.13,164.46 L560.47,165.03 L562.81,165.58 L565.15,166.11 L567.50,166.60 L569.85,167.05 L572.22,167.48 L574.58,167.88 L576.92,168.25 L579.20,168.60 L581.22,168.90 L583.18,169.18 L585.12,169.44 L587.08,169.68 L589.10,169.90 L591.38,170.12 L593.71,170.32 L596.07,170.50 L598.44,170.66 L600.80,170.80 L603.14,170.92 L605.48,171.03 L607.82,171.11 L610.16,171.17 L612.50,171.20 L614.84,171.20 L617.18,171.16 L619.52,171.10 L621.86,171.02 L624.20,170.90 L626.52,170.75 L628.84,170.57 L631.16,170.36 L633.48,170.14 L635.80,169.90 L638.16,169.65 L640.54,169.39 L642.91,169.11 L645.24,168.81 L647.50,168.50 L649.45,168.20 L651.34,167.88 L653.19,167.56 L655.04,167.23 L656.90,166.90" fill="none" stroke="#CC9900" stroke-width="3" stroke-linejoin="round" stroke-linecap="butt"/>
<path d="M92.30,166.90 L94.16,167.23 L96.01,167.56 L97.86,167.88 L99.75,168.20 L101.70,168.50 L103.96,168.81 L106.29,169.11 L108.66,169.39 L111.04,169.65 L113.40,169.90 L115.72,170.14 L118.04,170.36 L120.36,170.57 L122.68,170.75 L125.00,170.90 L127.34,171.02 L129.68,171.10 L132.02,171.16 L134.36,171.20 L136.70,171.20 L139.04,171.17 L141.38,171.11 L143.72,171.03 L146.06,170.92 L148.40,170.80 L150.76,170.66 L153.13,170.50 L155.49,170.32 L157.82,170.12 L160.10,169.90 L162.12,169.68 L164.08,169.44 L166.02,169.18 L167.98,168.90 L170.00,168.60 L172.28,168.25 L174.62,167.88 L176.98,167.48 L179.35,167.05 L181.70,166.60 L184.05,166.11 L186.39,165.58 L188.73,165.03 L191.07,164.46 L193.40,163.90 L195.72,163.34 L198.04,162.77 L200.36,162.19 L202.68,161.60 L205.00,161.00 L207.34,160.38 L209.68,159.74 L212.02,159.09 L214.36,158.44 L216.70,157.80 L219.04,157.15 L221.38,156.48 L223.71,155.82 L226.05,155.18 L228.40,154.60 L230.75,154.08 L233.12,153.60 L235.48,153.14 L237.82,152.72 L240.10,152.30 L242.12,151.93 L244.08,151.58 L246.02,151.24 L247.98,150.91 L250.00,150.60 L252.27,150.26 L254.61,149.92 L256.97,149.60 L259.34,149.32 L261.70,149.10 L264.04,148.95 L266.38,148.84 L268.72,148.78 L271.06,148.77 L273.40,148.80 L275.73,148.86 L278.05,148.95 L280.37,149.09 L282.69,149.30 L285.00,149.60 L287.35,150.00 L289.70,150.48 L292.04,151.03 L294.37,151.64 L296.70,152.30 L299.06,152.99 L301.42,153.72 L303.77,154.51 L306.10,155.40 L308.40,156.40 L310.87,157.63 L313.39,159.01 L315.85,160.48 L318.13,161.97 L320.10,163.40 L321.24,164.36 L322.18,165.30 L323.05,166.24 L323.95,167.23 L325.00,168.30 L326.73,169.93 L328.67,171.70 L330.70,173.57 L332.75,175.51 L334.70,177.50 L336.66,179.70 L338.59,182.01 L340.49,184.37 L342.39,186.75 L344.30,189.10 L346.29,191.48 L348.34,193.91 L350.37,196.31 L352.28,198.60 L354.00,200.70 L355.08,202.10 L356.07,203.45 L356.99,204.71 L357.89,205.87 L358.80,206.90 L359.50,207.64 L360.20,208.37 L360.89,209.01 L361.56,209.48 L362.20,209.70 L362.68,209.70 L363.16,209.59 L363.62,209.37 L364.04,209.04 L364.40,208.60 L364.92,206.89 L365.08,204.35 L365.03,201.29 L364.92,198.06 L364.90,195.00 L364.97,191.73 L365.03,188.37 L365.07,184.94 L365.13,181.47 L365.20,178.00 L365.29,174.28 L365.38,170.43 L365.49,166.61 L365.63,162.98 L365.80,159.70 L365.95,157.65 L366.12,155.80 L366.30,154.04 L366.49,152.27 L366.70,150.40 L366.95,148.18 L367.22,145.89 L367.50,143.56 L367.79,141.22 L368.10,138.90 L368.42,136.49 L368.74,133.97 L369.08,131.51 L369.43,129.24 L369.80,127.30 L369.99,126.27 L370.13,125.30 L370.31,124.43 L370.58,123.71 L371.00,123.20 L371.57,122.97 L372.27,122.94 L373.05,123.03 L373.84,123.14 L374.60,123.20 L375.36,123.14 L376.15,123.03 L376.93,122.94 L377.63,122.97 L378.20,123.20 L378.62,123.71 L378.89,124.43 L379.07,125.30 L379.21,126.27 L379.40,127.30 L379.77,129.24 L380.12,131.51 L380.46,133.97 L380.78,136.49 L381.10,138.90 L381.41,141.22 L381.70,143.56 L381.98,145.89 L382.25,148.18 L382.50,150.40 L382.71,152.27 L382.90,154.04 L383.08,155.80 L383.25,157.65 L383.40,159.70 L383.57,162.98 L383.71,166.61 L383.82,170.43 L383.91,174.28 L384.00,178.00 L384.07,181.47 L384.13,184.94 L384.17,188.37 L384.23,191.73 L384.30,195.00 L384.28,198.06 L384.17,201.29 L384.12,204.35 L384.28,206.89 L384.80,208.60 L385.16,209.04 L385.58,209.37 L386.04,209.59 L386.52,209.70 L387.00,209.70 L387.64,209.48 L388.31,209.01 L389.00,208.37 L389.70,207.64 L390.40,206.90 L391.31,205.87 L392.21,204.71 L393.13,203.45 L394.12,202.10 L395.20,200.70 L396.92,198.60 L398.83,196.31 L400.86,193.91 L402.91,191.48 L404.90,189.10 L406.81,186.75 L408.71,184.37 L410.61,182.01 L412.54,179.70 L414.50,177.50 L416.45,175.51 L418.50,173.57 L420.53,171.70 L422.47,169.93 L424.20,168.30 L425.25,167.23 L426.15,166.24 L427.02,165.30 L427.96,164.36 L429.10,163.40 L431.07,161.97 L433.35,160.48 L435.81,159.01 L438.33,157.63 L440.80,156.40 L443.10,155.40 L445.43,154.51 L447.78,153.72 L450.14,152.99 L452.50,152.30 L454.83,151.64 L457.16,151.03 L459.50,150.48 L461.85,150.00 L464.20,149.60 L466.51,149.30 L468.83,149.09 L471.15,148.95 L473.47,148.86 L475.80,148.80 L478.14,148.77 L480.48,148.78 L482.82,148.84 L485.16,148.95 L487.50,149.10 L489.86,149.32 L492.23,149.60 L494.59,149.92 L496.93,150.26 L499.20,150.60 L501.22,150.91 L503.18,151.24 L505.12,151.58 L507.08,151.93 L509.10,152.30 L511.38,152.72 L513.72,153.14 L516.08,153.60 L518.45,154.08 L520.80,154.60 L523.15,155.18 L525.49,155.82 L527.82,156.48 L530.16,157.15 L532.50,157.80 L534.84,158.44 L537.18,159.09 L539.52,159.74 L541.86,160.38 L544.20,161.00 L546.52,161.60 L548.84,162.19 L551.16,162.77 L553.48,163.34 L555.80,163.90 L558.13,164.46 L560.47,165.03 L562.81,165.58 L565.15,166.11 L567.50,166.60 L569.85,167.05 L572.22,167.48 L574.58,167.88 L576.92,168.25 L579.20,168.60 L581.22,168.90 L583.18,169.18 L585.12,169.44 L587.08,169.68 L589.10,169.90 L591.38,170.12 L593.71,170.32 L596.07,170.50 L598.44,170.66 L600.80,170.80 L603.14,170.92 L605.48,171.03 L607.82,171.11 L610.16,171.17 L612.50,171.20 L614.84,171.20 L617.18,171.16 L619.52,171.10 L621.86,171.02 L624.20,170.90 L626.52,170.75 L628.84,170.57 L631.16,170.36 L633.48,170.14 L635.80,169.90 L638.16,169.65 L640.54,169.39 L642.91,169.11 L645.24,168.81 L647.50,168.50 L649.45,168.20 L651.34,167.88 L653.19,167.56 L655.04,167.23 L656.90,166.90" fill="none" stroke="#CC9900" stroke-width="4.2" stroke-dasharray="1 2.4" stroke-linejoin="round" stroke-linecap="butt" opacity="0.85"/>
<rect x="65.5" y="9" width="618.5" height="445" fill="none" stroke="#000" stroke-width="2"/>
<line x1="99.72" y1="454" x2="99.72" y2="447" stroke="#000" stroke-width="2"/>
<line x1="134.08" y1="454" x2="134.08" y2="450" stroke="#000" stroke-width="2"/>
<line x1="168.44" y1="454" x2="168.44" y2="447" stroke="#000" stroke-width="2"/>
<line x1="202.80" y1="454" x2="202.80" y2="450" stroke="#000" stroke-width="2"/>
<line x1="237.16" y1="454" x2="237.16" y2="447" stroke="#000" stroke-width="2"/>
<line x1="271.52" y1="454" x2="271.52" y2="450" stroke="#000" stroke-width="2"/>
<line x1="305.88" y1="454" x2="305.88" y2="447" stroke="#000" stroke-width="2"/>
<line x1="340.24" y1="454" x2="340.24" y2="450" stroke="#000" stroke-width="2"/>
<line x1="374.60" y1="454" x2="374.60" y2="447" stroke="#000" stroke-width="2"/>
<line x1="408.96" y1="454" x2="408.96" y2="450" stroke="#000" stroke-width="2"/>
<line x1="443.32" y1="454" x2="443.32" y2="447" stroke="#000" stroke-width="2"/>
<line x1="477.68" y1="454" x2="477.68" y2="450" stroke="#000" stroke-width="2"/>
<line x1="512.04" y1="454" x2="512.04" y2="447" stroke="#000" stroke-width="2"/>
<line x1="546.40" y1="454" x2="546.40" y2="450" stroke="#000" stroke-width="2"/>
<line x1="580.76" y1="454" x2="580.76" y2="447" stroke="#000" stroke-width="2"/>
<line x1="615.12" y1="454" x2="615.12" y2="450" stroke="#000" stroke-width="2"/>
<line x1="649.48" y1="454" x2="649.48" y2="447" stroke="#000" stroke-width="2"/>
<line x1="65.5" y1="426.19" x2="69.5" y2="426.19" stroke="#000" stroke-width="2"/>
<line x1="65.5" y1="398.38" x2="72.5" y2="398.38" stroke="#000" stroke-width="2"/>
<line x1="65.5" y1="370.56" x2="69.5" y2="370.56" stroke="#000" stroke-width="2"/>
<line x1="65.5" y1="342.75" x2="72.5" y2="342.75" stroke="#000" stroke-width="2"/>
<line x1="65.5" y1="314.94" x2="69.5" y2="314.94" stroke="#000" stroke-width="2"/>
<line x1="65.5" y1="287.12" x2="72.5" y2="287.12" stroke="#000" stroke-width="2"/>
<line x1="65.5" y1="259.31" x2="69.5" y2="259.31" stroke="#000" stroke-width="2"/>
<line x1="65.5" y1="231.50" x2="72.5" y2="231.50" stroke="#000" stroke-width="2"/>
<line x1="65.5" y1="203.69" x2="69.5" y2="203.69" stroke="#000" stroke-width="2"/>
<line x1="65.5" y1="175.88" x2="72.5" y2="175.88" stroke="#000" stroke-width="2"/>
<line x1="65.5" y1="148.06" x2="69.5" y2="148.06" stroke="#000" stroke-width="2"/>
<line x1="65.5" y1="120.25" x2="72.5" y2="120.25" stroke="#000" stroke-width="2"/>
<line x1="65.5" y1="92.44" x2="69.5" y2="92.44" stroke="#000" stroke-width="2"/>
<line x1="65.5" y1="64.62" x2="72.5" y2="64.62" stroke="#000" stroke-width="2"/>
<line x1="65.5" y1="36.81" x2="69.5" y2="36.81" stroke="#000" stroke-width="2"/>
<text transform="translate(99.72,481.2) scale(1,0.94)" font-family="Liberation Serif" font-weight="bold" stroke="#000" stroke-width="0.5" font-size="24.5" text-anchor="middle">-4000</text>
<text transform="translate(168.44,481.2) scale(1,0.94)" font-family="Liberation Serif" font-weight="bold" stroke="#000" stroke-width="0.5" font-size="24.5" text-anchor="middle">-3000</text>
<text transform="translate(237.16,481.2) scale(1,0.94)" font-family="Liberation Serif" font-weight="bold" stroke="#000" stroke-width="0.5" font-size="24.5" text-anchor="middle">-2000</text>
<text transform="translate(305.88,481.2) scale(1,0.94)" font-family="Liberation Serif" font-weight="bold" stroke="#000" stroke-width="0.5" font-size="24.5" text-anchor="middle">-1000</text>
<text transform="translate(374.60,481.2) scale(1,0.94)" font-family="Liberation Serif" font-weight="bold" stroke="#000" stroke-width="0.5" font-size="24.5" text-anchor="middle">0</text>
<text transform="translate(443.32,481.2) scale(1,0.94)" font-family="Liberation Serif" font-weight="bold" stroke="#000" stroke-width="0.5" font-size="24.5" text-anchor="middle">1000</text>
<text transform="translate(512.04,481.2) scale(1,0.94)" font-family="Liberation Serif" font-weight="bold" stroke="#000" stroke-width="0.5" font-size="24.5" text-anchor="middle">2000</text>
<text transform="translate(580.76,481.2) scale(1,0.94)" font-family="Liberation Serif" font-weight="bold" stroke="#000" stroke-width="0.5" font-size="24.5" text-anchor="middle">3000</text>
<text transform="translate(649.48,481.2) scale(1,0.94)" font-family="Liberation Serif" font-weight="bold" stroke="#000" stroke-width="0.5" font-size="24.5" text-anchor="middle">4000</text>
<text transform="translate(56.6,461.00) scale(1,0.94)" font-family="Liberation Serif" font-weight="bold" stroke="#000" stroke-width="0.5" font-size="24.5" text-anchor="end">0.0</text>
<text transform="translate(56.6,405.38) scale(1,0.94)" font-family="Liberation Serif" font-weight="bold" stroke="#000" stroke-width="0.5" font-size="24.5" text-anchor="end">0.2</text>
<text transform="translate(56.6,349.75) scale(1,0.94)" font-family="Liberation Serif" font-weight="bold" stroke="#000" stroke-width="0.5" font-size="24.5" text-anchor="end">0.4</text>
<text transform="translate(56.6,294.12) scale(1,0.94)" font-family="Liberation Serif" font-weight="bold" stroke="#000" stroke-width="0.5" font-size="24.5" text-anchor="end">0.6</text>
<text transform="translate(56.6,238.50) scale(1,0.94)" font-family="Liberation Serif" font-weight="bold" stroke="#000" stroke-width="0.5" font-size="24.5" text-anchor="end">0.8</text>
<text transform="translate(56.6,182.88) scale(1,0.94)" font-family="Liberation Serif" font-weight="bold" stroke="#000" stroke-width="0.5" font-size="24.5" text-anchor="end">1.0</text>
<text transform="translate(56.6,127.25) scale(1,0.94)" font-family="Liberation Serif" font-weight="bold" stroke="#000" stroke-width="0.5" font-size="24.5" text-anchor="end">1.2</text>
<text transform="translate(56.6,71.62) scale(1,0.94)" font-family="Liberation Serif" font-weight="bold" stroke="#000" stroke-width="0.5" font-size="24.5" text-anchor="end">1.4</text>
<text transform="translate(56.6,16.00) scale(1,0.94)" font-family="Liberation Serif" font-weight="bold" stroke="#000" stroke-width="0.5" font-size="24.5" text-anchor="end">1.6</text>
<text transform="translate(258.2,513.4) scale(1,0.94)" font-family="Liberation Serif" font-weight="bold" stroke="#000" stroke-width="0.5" font-size="20.4">Longitudinal position/<tspan font-size="23.7">mm</tspan></text>
<text transform="translate(17.6,343.1) rotate(-90)" x="0" y="0" font-family="Liberation Serif" font-weight="bold" stroke="#000" stroke-width="0.5" font-size="20.45">Vertical displacement/<tspan font-size="23.8">cm</tspan></text>
<line x1="139.5" y1="39.25" x2="184.3" y2="39.25" stroke="#484848" stroke-width="3.1" stroke-linecap="round"/>
<text transform="translate(190.7,45.80) scale(1,0.94)" font-family="Liberation Serif" font-weight="bold" stroke="#000" stroke-width="0.5" font-size="20.2">Overall warming 10<tspan dx="0.9" dy="-6.6" font-size="14.8">o</tspan><tspan dx="-0.4" dy="6.6">C</tspan></text>
<line x1="391.5" y1="39.25" x2="435.9" y2="39.25" stroke="#F14040" stroke-width="3.1" stroke-linecap="round"/>
<rect x="413.00" y="36.85" width="1.4" height="4.8" fill="#F14040" opacity="0.8"/>
<text transform="translate(442.1,45.80) scale(1,0.94)" font-family="Liberation Serif" font-weight="bold" stroke="#000" stroke-width="0.5" font-size="20.2">Overall warming 20<tspan dx="0.9" dy="-6.6" font-size="14.8">o</tspan><tspan dx="-0.4" dy="6.6">C</tspan></text>
<line x1="139.5" y1="65.1" x2="184.3" y2="65.1" stroke="#1A6FDF" stroke-width="3.1" stroke-linecap="round"/>
<rect x="161.20" y="62.70" width="1.4" height="4.8" fill="#1A6FDF" opacity="0.8"/>
<text transform="translate(190.7,71.65) scale(1,0.94)" font-family="Liberation Serif" font-weight="bold" stroke="#000" stroke-width="0.5" font-size="20.2">Overall warming 30<tspan dx="0.9" dy="-6.6" font-size="14.8">o</tspan><tspan dx="-0.4" dy="6.6">C</tspan></text>
<line x1="391.5" y1="65.1" x2="435.9" y2="65.1" stroke="#37AD6B" stroke-width="3.1" stroke-linecap="round"/>
<rect x="413.00" y="62.70" width="1.4" height="4.8" fill="#37AD6B" opacity="0.8"/>
<text transform="translate(442.1,71.65) scale(1,0.94)" font-family="Liberation Serif" font-weight="bold" stroke="#000" stroke-width="0.5" font-size="20.2">Overall warming 40<tspan dx="0.9" dy="-6.6" font-size="14.8">o</tspan><tspan dx="-0.4" dy="6.6">C</tspan></text>
<line x1="139.5" y1="90.4" x2="184.3" y2="90.4" stroke="#B177DE" stroke-width="3.1" stroke-linecap="round"/>
<rect x="161.20" y="88.00" width="1.4" height="4.8" fill="#B177DE" opacity="0.8"/>
<text transform="translate(190.7,96.95) scale(1,0.94)" font-family="Liberation Serif" font-weight="bold" stroke="#000" stroke-width="0.5" font-size="20.2">Overall warming 50<tspan dx="0.9" dy="-6.6" font-size="14.8">o</tspan><tspan dx="-0.4" dy="6.6">C</tspan></text>
<line x1="391.5" y1="90.4" x2="435.9" y2="90.4" stroke="#CC9900" stroke-width="3.1" stroke-linecap="round"/>
<rect x="413.00" y="88.00" width="1.4" height="4.8" fill="#CC9900" opacity="0.8"/>
<text transform="translate(442.1,96.95) scale(1,0.94)" font-family="Liberation Serif" font-weight="bold" stroke="#000" stroke-width="0.5" font-size="20.2">Overall warming 60<tspan dx="0.9" dy="-6.6" font-size="14.8">o</tspan><tspan dx="-0.4" dy="6.6">C</tspan></text>
</svg></body></html>
